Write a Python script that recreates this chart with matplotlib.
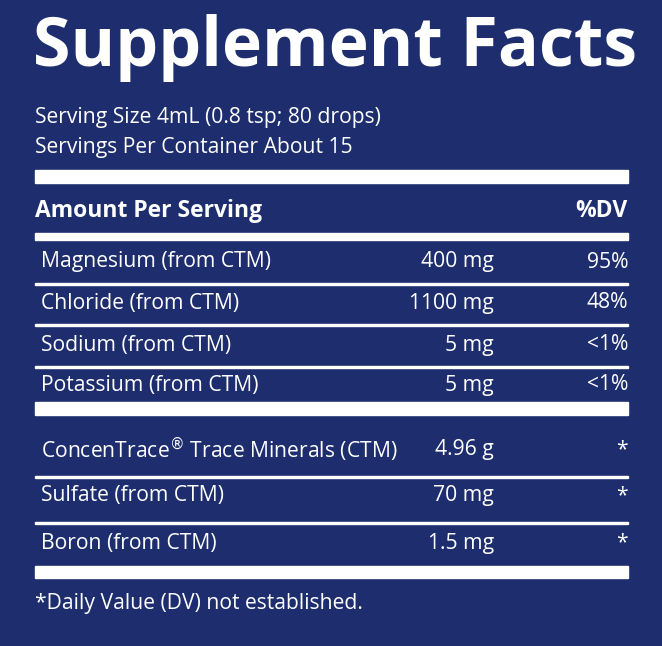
import matplotlib.pyplot as plt
from matplotlib.patches import Rectangle

NAVY = "#1d2d6e"
W, H = 662, 646

serving_lines = ["Serving Size 4mL (0.8 tsp; 80 drops)", "Servings Per Container About 15"]
dv_names = ["Magnesium (from CTM)", "Chloride (from CTM)", "Sodium (from CTM)", "Potassium (from CTM)"]
dv_amounts = ["400 mg", "1100 mg", "5 mg", "5 mg"]
dv_pct = ["95%", "48%", "<1%", "<1%"]
other_names = ["ConcenTrace$^{\\circledR}$ Trace Minerals (CTM)", "Sulfate (from CTM)", "Boron (from CTM)"]
other_amounts = ["4.96 g", "70 mg", "1.5 mg"]
footnote = "*Daily Value (DV) not established."

plt.rcParams["font.family"] = ["Open Sans", "DejaVu Sans"]
plt.rcParams["mathtext.fontset"] = "dejavusans"
fig = plt.figure(figsize=(W / 100, H / 100), dpi=100)
ax = fig.add_axes([0, 0, 1, 1])
ax.set_xlim(0, W)
ax.set_ylim(H, 0)
ax.axis("off")
ax.add_patch(Rectangle((0, 0), W, H, color=NAVY))

L, R, AMT = 35, 628, 494
FS = 15.2


def bar(y, h):
    ax.add_patch(Rectangle((L, y), R - L, h, color="white"))


ax.text(L - 2, 48, "Supplement Facts", color="white", fontsize=49, fontweight="bold",
        va="center", ha="left")
for i, s in enumerate(serving_lines):
    ax.text(L, 117 + 30 * i, s, color="white", fontsize=FS, va="center")
bar(170, 13)
ax.text(L, 211, "Amount Per Serving", color="white", fontsize=16.5, fontweight="bold", va="center")
ax.text(R, 211, "%DV", color="white", fontsize=16.5, fontweight="bold", va="center", ha="right")
bar(233, 7)

ys = [262, 303, 345, 385]
for i, (n, a, p) in enumerate(zip(dv_names, dv_amounts, dv_pct)):
    y = ys[i]
    ax.text(L + 6, y, n, color="white", fontsize=FS, va="center")
    ax.text(AMT, y, a, color="white", fontsize=FS, va="center", ha="right")
    ax.text(R, y, p, color="white", fontsize=FS, va="center", ha="right")
    if i < len(ys) - 1:
        bar(y + 21, 2)
bar(402, 13)

ys2 = [450, 496, 543]
for i, (n, a) in enumerate(zip(other_names, other_amounts)):
    y = ys2[i]
    ax.text(L + 6, y, n, color="white", fontsize=FS, va="center")
    ax.text(AMT, y, a, color="white", fontsize=FS, va="center", ha="right")
    ax.text(R, y, "*", color="white", fontsize=FS, va="center", ha="right")
    if i < len(ys2) - 1:
        bar(y + 26, 2)
bar(566, 12)
ax.text(L, 603, footnote, color="white", fontsize=FS, va="center")

fig.savefig("out.png", dpi=100)
